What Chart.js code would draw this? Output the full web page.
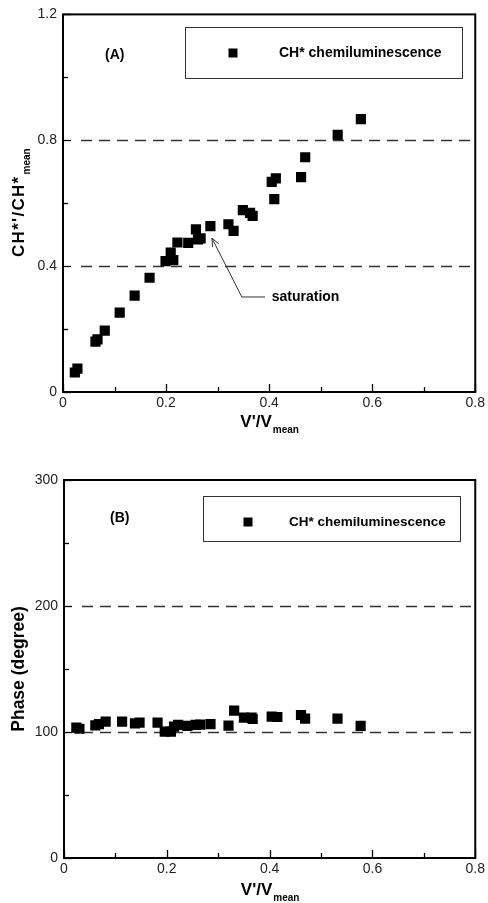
<!DOCTYPE html>
<html>
<head>
<meta charset="utf-8">
<script src="https://cdn.jsdelivr.net/npm/chart.js@4"></script>
<style>
  html, body { margin: 0; padding: 0; background: #fff; }
  #wrap { position: relative; width: 488px; height: 903px; }
  #chartA { position: absolute; left: 0; top: 0; }
  #chartB { position: absolute; left: 0; top: 450px; }
</style>
</head>
<body>
<div id="wrap">
  <canvas id="chartA" width="488" height="450"></canvas>
  <canvas id="chartB" width="488" height="453"></canvas>
</div>
<script>
// (A) CH* amplitude vs velocity amplitude
var xA = [0.023, 0.028, 0.063, 0.067, 0.081, 0.110, 0.139, 0.168, 0.199, 0.209, 0.214, 0.222, 0.243, 0.258, 0.262, 0.267, 0.286, 0.321, 0.331, 0.349, 0.363, 0.368, 0.405, 0.413, 0.410, 0.462, 0.470, 0.533, 0.578];
var yA = [0.062, 0.074, 0.160, 0.167, 0.195, 0.252, 0.306, 0.363, 0.416, 0.443, 0.419, 0.475, 0.474, 0.517, 0.485, 0.488, 0.527, 0.533, 0.512, 0.578, 0.569, 0.560, 0.668, 0.679, 0.613, 0.683, 0.746, 0.817, 0.867];

// (B) phase vs velocity amplitude
var xB = [0.024, 0.030, 0.061, 0.068, 0.081, 0.113, 0.138, 0.147, 0.182, 0.196, 0.208, 0.214, 0.222, 0.240, 0.256, 0.265, 0.285, 0.320, 0.331, 0.350, 0.365, 0.367, 0.404, 0.415, 0.461, 0.469, 0.532, 0.577];
var yB = [103.4, 102.6, 105.3, 106.3, 108.2, 108.2, 106.9, 107.4, 107.4, 100.3, 100.3, 104.2, 105.6, 104.8, 105.6, 105.8, 106.3, 105.0, 116.9, 111.4, 111.4, 110.3, 112.2, 111.9, 113.5, 110.6, 110.6, 104.8];

// tick labels (labels on every other tick)
var xTickLabels = ["0", "0.2", "0.4", "0.6", "0.8"];
var yTickLabelsA = ["0", "0.4", "0.8", "1.2"];
var yTickLabelsB = ["0", "100", "200", "300"];
var dashedA = [0.4, 0.8];
var dashedB = [100, 200];

var seriesName = "CH* chemiluminescence";
var FONT = '"Liberation Sans", Arial, Helvetica, sans-serif';

function toPoints(xs, ys) {
  return xs.map((x, i) => ({ x: x, y: ys[i] }));
}

// 축 제목 (아래첨자 포함)
function drawSubText(ctx, main, sub, mainSize, subSize, subShift, spacing) {
  ctx.letterSpacing = (spacing || 0) + "px";
  ctx.font = "bold " + mainSize + "px " + FONT;
  var w1 = ctx.measureText(main).width;
  ctx.letterSpacing = "0px";
  ctx.font = "bold " + subSize + "px " + FONT;
  var w2 = ctx.measureText(sub).width;
  var x0 = -(w1 + w2) / 2;
  ctx.textAlign = "left";
  ctx.textBaseline = "alphabetic";
  ctx.letterSpacing = (spacing || 0) + "px";
  ctx.font = "bold " + mainSize + "px " + FONT;
  ctx.fillText(main, x0, 0);
  ctx.letterSpacing = "0px";
  ctx.font = "bold " + subSize + "px " + FONT;
  ctx.fillText(sub, x0 + w1 + 1, subShift);
}

function decoPlugin(cfg) {
  return {
    id: "deco",
    beforeDatasetsDraw(chart) {
      var ctx = chart.ctx, a = chart.chartArea;
      var xs = chart.scales.x, ys = chart.scales.y;
      ctx.save();
      // 점선 기준선
      ctx.strokeStyle = "#333";
      ctx.lineWidth = 1.3;
      ctx.setLineDash([11, 7]);
      cfg.dashed.forEach((v) => {
        var py = Math.round(ys.getPixelForValue(v)) + 0.5;
        ctx.beginPath();
        ctx.moveTo(a.left + 18, py);
        ctx.lineTo(a.right, py);
        ctx.stroke();
      });
      ctx.setLineDash([]);
      // 안쪽 눈금
      ctx.strokeStyle = "#000";
      ctx.lineWidth = 1.3;
      xs.ticks.forEach((t, i) => {
        var px = Math.round(xs.getPixelForValue(t.value)) + 0.5;
        var len = i % 2 === 0 ? 8 : 5;
        ctx.beginPath();
        ctx.moveTo(px, a.bottom);
        ctx.lineTo(px, a.bottom - len);
        ctx.stroke();
      });
      ys.ticks.forEach((t, i) => {
        var py = Math.round(ys.getPixelForValue(t.value)) + 0.5;
        var len = i % 2 === 0 ? 8 : 5;
        ctx.beginPath();
        ctx.moveTo(a.left, py);
        ctx.lineTo(a.left + len, py);
        ctx.stroke();
      });
      // 화살표 주석
      if (cfg.arrow) {
        var p = (v) => [xs.getPixelForValue(v[0]), ys.getPixelForValue(v[1])];
        var tip = p(cfg.arrow.tip), corner = p(cfg.arrow.corner), end = p(cfg.arrow.end);
        ctx.strokeStyle = "#333";
        ctx.lineWidth = 1;
        ctx.beginPath();
        ctx.moveTo(end[0], end[1]);
        ctx.lineTo(corner[0], corner[1]);
        ctx.lineTo(tip[0], tip[1]);
        ctx.stroke();
        var ang = Math.atan2(corner[1] - tip[1], corner[0] - tip[0]);
        [-0.4, 0.4].forEach((d) => {
          ctx.beginPath();
          ctx.moveTo(tip[0], tip[1]);
          ctx.lineTo(tip[0] + 9 * Math.cos(ang + d), tip[1] + 9 * Math.sin(ang + d));
          ctx.stroke();
        });
        var tp = p(cfg.arrow.text);
        ctx.fillStyle = "#000";
        ctx.font = "bold 14px " + FONT;
        ctx.textAlign = "left";
        ctx.textBaseline = "middle";
        ctx.fillText(cfg.arrow.label, tp[0], tp[1]);
      }
      ctx.restore();
    },
    afterDraw(chart) {
      var ctx = chart.ctx, a = chart.chartArea;
      ctx.save();
      // 테두리
      ctx.strokeStyle = "#000";
      ctx.lineWidth = 2;
      ctx.strokeRect(a.left, a.top, a.right - a.left, a.bottom - a.top);
      // 범례 상자
      var L = cfg.legend;
      ctx.lineWidth = 1;
      ctx.strokeStyle = "#333";
      ctx.strokeRect(L.box[0] + 0.5, L.box[1] + 0.5, L.box[2], L.box[3]);
      ctx.fillStyle = "#000";
      ctx.fillRect(L.mark[0] - 4.5, L.mark[1] - 4.5, 9, 9);
      ctx.font = "bold " + L.size + "px " + FONT;
      ctx.textAlign = "left";
      ctx.textBaseline = "middle";
      ctx.fillText(seriesName, L.text[0], L.text[1]);
      // 패널 라벨
      ctx.font = "bold 14px " + FONT;
      ctx.fillText(cfg.panel.label, cfg.panel.pos[0], cfg.panel.pos[1]);
      // x축 제목
      ctx.save();
      ctx.translate((a.left + a.right) / 2, a.bottom + cfg.xTitleOffset);
      drawSubText(ctx, "V'/V", "mean", 17, 10, 6, 0);
      ctx.restore();
      // y축 제목
      ctx.save();
      ctx.translate(24, (a.top + a.bottom) / 2);
      ctx.rotate(-Math.PI / 2);
      drawSubText(ctx, cfg.yTitle[0], cfg.yTitle[1], cfg.yTitle[2], 10, 6, cfg.yTitle[3]);
      ctx.restore();
      ctx.restore();
    },
  };
}

function makeChart(id, pts, yMax, yStep, yLabels, layout, cfg) {
  var ctx = document.getElementById(id).getContext("2d");
  return new Chart(ctx, {
    type: "scatter",
    data: {
      datasets: [
        {
          label: seriesName,
          data: pts,
          pointStyle: "rect",
          pointRadius: 7.2,
          pointHoverRadius: 7.2,
          borderWidth: 0,
          backgroundColor: "#000",
        },
      ],
    },
    options: {
      responsive: false,
      animation: false,
      events: [],
      layout: { padding: layout.padding },
      plugins: { legend: { display: false }, tooltip: { enabled: false } },
      scales: {
        x: {
          type: "linear",
          min: 0,
          max: 0.8,
          afterFit: (s) => { s.height = layout.xHeight; },
          grid: { display: false, drawTicks: false },
          border: { display: false },
          ticks: {
            stepSize: 0.1,
            autoSkip: false,
            maxRotation: 0,
            padding: 3,
            color: "#222",
            font: { family: FONT, size: 14 },
            callback: (v, i) => (i % 2 === 0 ? xTickLabels[i / 2] : ""),
          },
        },
        y: {
          type: "linear",
          min: 0,
          max: yMax,
          afterFit: (s) => { s.width = layout.yWidth; },
          grid: { display: false, drawTicks: false },
          border: { display: false },
          ticks: {
            stepSize: yStep,
            autoSkip: false,
            padding: 6,
            color: "#222",
            font: { family: FONT, size: 14 },
            callback: (v, i) => (i % 2 === 0 ? yLabels[i / 2] : ""),
          },
        },
      },
    },
    plugins: [decoPlugin(cfg)],
  });
}

makeChart("chartA", toPoints(xA, yA), 1.2, 0.2, yTickLabelsA,
  { padding: { top: 14, right: 12, left: 0, bottom: 0 }, xHeight: 58, yWidth: 63 },
  {
    dashed: dashedA,
    legend: { box: [185, 27, 277, 51], mark: [233, 53], text: [279, 53], size: 14 },
    panel: { label: "(A)", pos: [105, 55] },
    arrow: { tip: [0.289, 0.489], corner: [0.347, 0.302], end: [0.392, 0.302], text: [0.405, 0.302], label: "saturation" },
    xTitleOffset: 35,
    yTitle: ["CH*'/CH*", "mean", 17, 1.3],
  });

makeChart("chartB", toPoints(xB, yB), 300, 50, yTickLabelsB,
  { padding: { top: 30, right: 10, left: 0, bottom: 0 }, xHeight: 45, yWidth: 64 },
  {
    dashed: dashedB,
    legend: { box: [203, 46, 257, 45], mark: [248, 72], text: [289, 72], size: 13.5 },
    panel: { label: "(B)", pos: [110, 68] },
    arrow: null,
    xTitleOffset: 37,
    yTitle: ["Phase (degree)", "", 17.5, 0],
  });
</script>
</body>
</html>
